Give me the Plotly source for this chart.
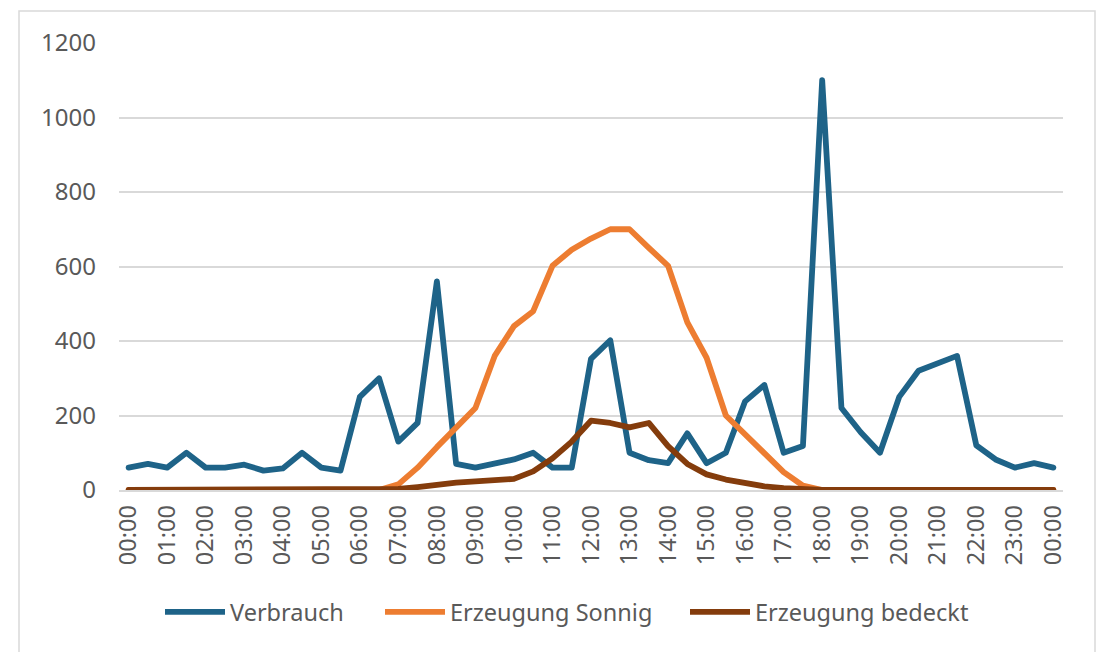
import plotly.graph_objects as go

times = [f"{h:02d}:{m:02d}" for h in range(24) for m in (0, 30)] + ["00:00"]

verbrauch = [60, 70, 60, 100, 60, 60, 68, 52, 58, 100, 60, 52,
             250, 300, 130, 180, 560, 70, 60, 72, 82, 100, 60, 60,
             352, 402, 100, 80, 72, 152, 72, 100, 238, 282, 100, 118,
             1100, 220, 155, 100, 250, 320, 340, 360, 120, 82, 60, 72, 60]

sonnig = [0, 0, 0, 0, 0, 0, 0, 0, 0, 0, 0, 0,
          0, 0, 15, 60, 115, 165, 220, 360, 440, 480, 602, 645,
          675, 700, 700, 650, 602, 450, 355, 200, 150, 100, 48, 12,
          0, 0, 0, 0, 0, 0, 0, 0, 0, 0, 0, 0, 0]

bedeckt = [0, 0, 0, 0, 0, 0, 0, 0, 0, 0, 0, 0,
           0, 0, 3, 8, 15, 20, 23, 27, 30, 50, 85, 130,
           186, 180, 168, 180, 118, 70, 42, 28, 18, 10, 5, 2,
           0, 0, 0, 0, 0, 0, 0, 0, 0, 0, 0, 0, 0]

series = [("Verbrauch", verbrauch, "#1E6388"),
          ("Erzeugung Sonnig", sonnig, "#ED7D31"),
          ("Erzeugung bedeckt", bedeckt, "#843C0C")]

idx = list(range(len(times)))
font = "Noto Sans"
grey = "#595959"

L, R, T, B = 119, 36, 43, 162
W, H = 1099, 652
pw, ph = W - L - R, H - T - B

legend_names = ["legend", "legend2", "legend3"]
legend_px = [160, 380, 685]

fig = go.Figure()
for (name, vals, col), lg in zip(series, legend_names):
    fig.add_trace(go.Scatter(x=idx, y=vals, name=name, mode="lines",
                             legend=lg, line=dict(color=col, width=5.8)))

legend_common = dict(orientation="h", xanchor="left",
                     y=(490 - 612) / ph, yanchor="middle",
                     font=dict(size=23.5, color=grey, family=font),
                     itemwidth=60, bgcolor="rgba(0,0,0,0)")

layout_legends = {lg: dict(legend_common, x=(px - L) / pw)
                  for lg, px in zip(legend_names, legend_px)}

fig.update_layout(
    width=W, height=H,
    margin=dict(l=L, r=R, t=T, b=B, autoexpand=False),
    paper_bgcolor="white", plot_bgcolor="white",
    font=dict(family=font, size=22, color=grey),
    showlegend=True,
    xaxis=dict(range=[-0.5, len(times) - 0.5],
               tickvals=idx[::2], ticktext=times[::2],
               tickangle=-90, showgrid=False, zeroline=False,
               showline=True, linecolor="#D9D9D9", linewidth=1.5,
               ticks="", automargin=False, ticklabelstandoff=4,
               tickfont=dict(size=23.5, color=grey)),
    yaxis=dict(range=[0, 1200], tickvals=[0, 200, 400, 600, 800, 1000, 1200],
               showgrid=True, gridcolor="#D9D9D9", gridwidth=1.5,
               zeroline=False, showline=False, ticks="", automargin=False,
               ticklabelstandoff=22, tickfont=dict(size=24, color=grey)),
    shapes=[dict(type="rect", xref="paper", yref="paper",
                 x0=(19 - L) / pw, x1=(1095 - L) / pw,
                 y0=(490 - 700) / ph, y1=(490 - 11) / ph,
                 line=dict(color="#D9D9D9", width=1.5), layer="below")],
    **layout_legends,
)

post = """
document.body.style.margin='0';
document.body.style.overflow='hidden';
function fixJoins(){document.querySelectorAll('.scatterlayer path.js-line').forEach(function(p){p.style.strokeLinejoin='round';p.style.strokeLinecap='round';});}
fixJoins(); setTimeout(fixJoins, 50);
"""
fig.write_html("out.html", post_script=post, config={"displayModeBar": False})
